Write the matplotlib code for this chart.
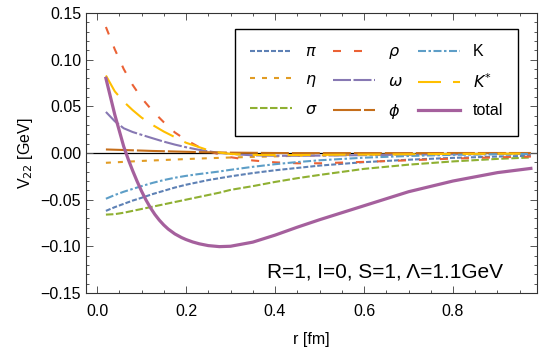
import matplotlib.pyplot as plt
from matplotlib.ticker import MultipleLocator

plt.rcParams['font.family'] = ['Liberation Sans', 'DejaVu Sans']
plt.rcParams['mathtext.fontset'] = 'dejavusans'
plt.rcParams['lines.scale_dashes'] = False

r = [0.02, 0.04, 0.06, 0.08, 0.10, 0.125, 0.15, 0.175, 0.20, 0.225, 0.25,
     0.275, 0.30, 0.35, 0.40, 0.45, 0.50, 0.60, 0.70, 0.80, 0.90, 0.975]

v_pi = [-0.062, -0.058, -0.0545, -0.051, -0.048, -0.044, -0.0405, -0.037, -0.034, -0.0315, -0.029,
        -0.027, -0.025, -0.0215, -0.0185, -0.016, -0.0135, -0.0098, -0.0072, -0.0052, -0.0038, -0.003]
v_eta = [-0.0105, -0.010, -0.0095, -0.009, -0.0085, -0.008, -0.0075, -0.007, -0.0065, -0.006, -0.0056,
         -0.0052, -0.0048, -0.0042, -0.0036, -0.003, -0.0026, -0.0019, -0.0014, -0.001, -0.0007, -0.0006]
v_sigma = [-0.066, -0.0655, -0.064, -0.062, -0.060, -0.0575, -0.055, -0.0525, -0.050, -0.0475, -0.045,
           -0.0425, -0.0395, -0.0355, -0.031, -0.027, -0.0235, -0.017, -0.0125, -0.009, -0.0063, -0.0048]
v_rho = [0.135, 0.111, 0.090, 0.073, 0.059, 0.045, 0.033, 0.022, 0.014, 0.0075, 0.002,
         -0.0015, -0.0045, -0.008, -0.010, -0.011, -0.011, -0.0095, -0.0078, -0.006, -0.0046, -0.0038]
v_omega = [0.044, 0.034, 0.0265, 0.0225, 0.0195, 0.0158, 0.0122, 0.009, 0.0062, 0.0038, 0.0018,
           0.0002, -0.001, -0.0025, -0.003, -0.003, -0.0028, -0.0023, -0.0018, -0.0014, -0.0011, -0.0009]
v_phi = [0.0038, 0.0035, 0.0032, 0.0029, 0.0026, 0.0022, 0.0019, 0.0016, 0.0013, 0.001, 0.0008,
         0.0006, 0.0004, 0.0002, 0.0, -0.0001, -0.0001, -0.0001, -0.0001, 0.0, 0.0, 0.0]
v_K = [-0.049, -0.045, -0.0415, -0.0385, -0.0355, -0.032, -0.029, -0.0265, -0.0245, -0.0228, -0.0213,
       -0.0198, -0.018, -0.0148, -0.012, -0.0097, -0.0078, -0.005, -0.0032, -0.002, -0.0013, -0.001]
v_Kstar = [0.083, 0.066, 0.055, 0.046, 0.038, 0.030, 0.023, 0.017, 0.011, 0.007, 0.003,
           0.0005, -0.001, -0.002, -0.0022, -0.0022, -0.002, -0.0017, -0.0013, -0.001, -0.0008, -0.0006]

# total is sampled more densely where it bends
r_total = [0.02, 0.04, 0.06, 0.07, 0.08, 0.09, 0.10, 0.11, 0.12, 0.13, 0.14, 0.15, 0.16, 0.175,
           0.19, 0.20, 0.215, 0.23, 0.25, 0.275, 0.30, 0.35, 0.40, 0.45, 0.50, 0.60, 0.70,
           0.80, 0.90, 0.975]
v_total = [0.080, 0.041, 0.007, -0.0065, -0.0188, -0.0302, -0.0408, -0.0503, -0.0586, -0.0658,
           -0.0719, -0.0771, -0.0815, -0.0867, -0.0906, -0.0927, -0.0953, -0.0973, -0.0992,
           -0.1003, -0.0999, -0.0955, -0.088, -0.0795, -0.0715, -0.0565, -0.0415, -0.030,
           -0.021, -0.0165]

px = 0.72  # pixel -> point at 100 dpi
lw = 1.5

fig = plt.figure(figsize=(5.42, 3.59), dpi=100)
ax = fig.add_axes([0.1587, 0.1838, 0.8321, 0.78])

ax.axhline(0, color='black', lw=0.9, zorder=1)

ax.plot(r, v_pi, color='#5E81B5', lw=lw, dashes=(5 * px, 2 * px), label=r'$\pi$')
ax.plot(r, v_eta, color='#E19C24', lw=lw, dashes=(5 * px, 7 * px), label=r'$\eta$')
ax.plot(r, v_sigma, color='#8FB032', lw=lw, dashes=(7.5 * px, 2.5 * px), label=r'$\sigma$')
ax.plot(r, v_rho, color='#EB6235', lw=lw, dashes=(8 * px, 13 * px), label=r'$\rho$')
ax.plot(r, v_omega, color='#8778B3', lw=lw,
        dashes=(18 * px, 2.5 * px, 18 * px, 2.5 * px, 3 * px, 2.5 * px), label=r'$\omega$')
ax.plot(r, v_phi, color='#C56E1A', lw=lw, dashes=(28 * px, 3 * px), label=r'$\phi$')
ax.plot(r, v_K, color='#5D9EC7', lw=lw, dashes=(8 * px, 2.5 * px, 2.5 * px, 2.5 * px), label='K')
ax.plot(r, v_Kstar, color='#FFBF00', lw=lw, dashes=(23 * px, 12 * px), label=r'$K^{*}$')
ax.plot(r_total, v_total, color='#A5609D', lw=2.3, label='total')

ax.set_xlim(-0.0247, 0.9888)
ax.set_ylim(-0.15, 0.15)
ax.xaxis.set_major_locator(MultipleLocator(0.2))
ax.xaxis.set_minor_locator(MultipleLocator(0.05))
ax.yaxis.set_major_locator(MultipleLocator(0.05))
ax.yaxis.set_minor_locator(MultipleLocator(0.01))
ax.xaxis.set_major_formatter(plt.FuncFormatter(lambda v, p: f'{v:.1f}'))
ax.yaxis.set_major_formatter(plt.FuncFormatter(lambda v, p: f'{v:.2f}'.replace('-', '\u2212')))
ax.tick_params(which='both', direction='in', top=True, right=True, labelsize=11.5,
               color='#555555', width=0.7)
ax.tick_params(which='major', length=5)
ax.tick_params(which='minor', length=2.5)
ax.tick_params(axis='x', which='major', pad=8)
for s in ax.spines.values():
    s.set_linewidth(0.8)
    s.set_color('#333333')

ax.set_xlabel('r [fm]', fontsize=11.5, labelpad=9)
ax.set_ylabel(r'V$_{22}$ [GeV]', fontsize=11.5, labelpad=4)

ax.text(0.925, 0.057, 'R=1, I=0, S=1, \u039b=1.1GeV', transform=ax.transAxes,
        ha='right', va='baseline', fontsize=15)

leg = ax.legend(ncol=3, loc='upper right', bbox_to_anchor=(0.958, 0.943), borderaxespad=0,
                fontsize=11.5, handlelength=2.6, handletextpad=0.8, columnspacing=1.0,
                labelspacing=0.8, borderpad=0.95, fancybox=False, framealpha=1)
leg.get_frame().set_edgecolor('black')
leg.get_frame().set_linewidth(1.0)

fig.savefig('out.png', dpi=100)
